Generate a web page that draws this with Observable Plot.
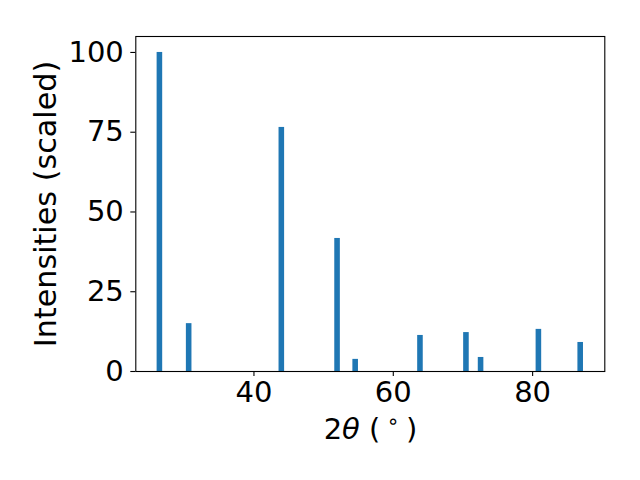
<!DOCTYPE html>
<html>
<head>
<meta charset="utf-8">
<script src="https://cdn.jsdelivr.net/npm/d3@7"></script>
<script src="https://cdn.jsdelivr.net/npm/@observablehq/plot@0.6"></script>
<style>
  html, body { margin: 0; padding: 0; background: #fff; }
  svg { display: block; }
</style>
</head>
<body>
<div id="chart"></div>
<script>
// Peak positions (2θ, degrees) and scaled intensities
const twoTheta = [26.5, 30.7, 44.0, 52.0, 54.6, 63.9, 70.5, 72.6, 80.9, 86.9];
const intensity = [100, 15.0, 76.5, 41.7, 3.8, 11.3, 12.2, 4.4, 13.2, 9.1];
const xTicks = [40, 60, 80];
const yTicks = [0, 25, 50, 75, 100];
const barWidth = 0.8;

const data = twoTheta.map((t, i) => ({t, v: intensity[i]}));

const FONT = "DejaVu Sans, sans-serif";
const FS = 29;
const LFS = 30.2;

const plot = Plot.plot({
  width: 640,
  height: 480,
  marginLeft: 135.3,
  marginRight: 35.7,
  marginTop: 36,
  marginBottom: 109,
  style: {fontFamily: FONT, background: "#fff", color: "#000"},
  x: {domain: [23.04, 90.36]},
  y: {domain: [0, 105]},
  marks: [
    Plot.rectY(data, {x1: d => d.t - barWidth / 2, x2: d => d.t + barWidth / 2, y1: 0, y2: "v", fill: "#1f77b4", inset: 0}),
    Plot.frame({stroke: "#000", strokeWidth: 1.1}),
    Plot.axisX({ticks: xTicks, tickSize: 5, tickPadding: 5, fontSize: FS, label: null, strokeWidth: 1.1, tickFormat: d => String(d)}),
    Plot.axisY({ticks: yTicks, tickSize: 5, tickPadding: 7, fontSize: FS, label: null, strokeWidth: 1.1, tickFormat: d => String(d)})
  ]
});

const svg = d3.select(plot);
// X axis label: 2θ (°)
const xl = svg.append("text")
  .attr("x", 370.5).attr("y", 439)
  .attr("text-anchor", "middle")
  .attr("font-family", FONT).attr("font-size", FS).attr("fill", "#000");
xl.append("tspan").text("2");
xl.append("tspan").attr("font-style", "italic").text("θ");
xl.append("tspan").text(" (");
xl.append("tspan").attr("font-size", FS * 0.7).attr("dy", -11).text(" ∘ ");
xl.append("tspan").attr("dy", 11).text(")");

// Y axis label
svg.append("text")
  .attr("transform", "translate(56,204) rotate(-90)")
  .attr("text-anchor", "middle")
  .attr("font-family", FONT).attr("font-size", LFS).attr("fill", "#000")
  .text("Intensities (scaled)");

document.getElementById("chart").appendChild(plot);
</script>
</body>
</html>
